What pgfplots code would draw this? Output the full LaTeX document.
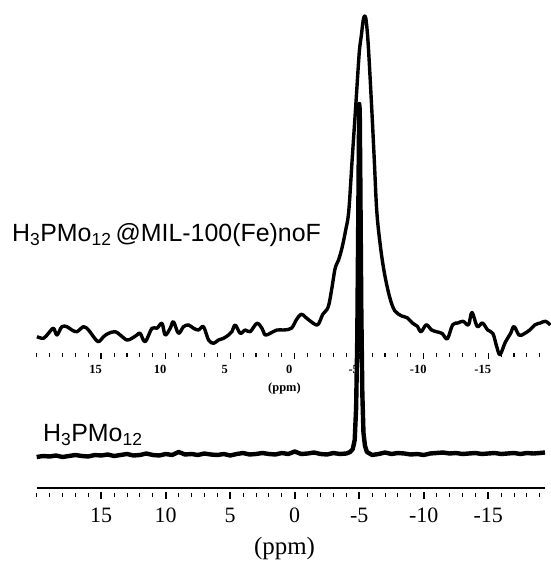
\documentclass[border=0pt]{standalone}
\usepackage{fontspec}
\setmainfont{Liberation Serif}
\newfontfamily\arial{Liberation Sans}
\usepackage{pgfplots}
\usepackage{pgfplotstable}
\pgfplotsset{compat=1.18}

\pgfplotstableread{
x A
19.98 151.3
19.47 149.7
19.09 154.7
18.70 159.7
18.43 153
18.05 161.3
17.66 161.3
17.27 158
16.88 156.3
16.37 161.3
15.98 158
15.60 151.3
15.21 146.3
14.82 151.3
14.43 154.7
13.91 156.3
13.53 153
13.01 148
12.62 149.7
12.23 153
11.98 154.7
11.59 146.3
11.07 159.7
10.68 159.7
10.29 164.7
10.04 153
9.65 159.7
9.40 166.3
9.01 154.7
8.62 161.3
8.23 163
7.84 159.7
7.46 158
7.07 161.3
6.68 148
6.29 144.7
5.91 148
5.52 149.7
5.13 153
4.87 156.3
4.61 163
4.22 154.7
3.84 158
3.45 156.3
2.93 164.7
2.54 159.7
2.29 153
1.90 154.7
1.38 158
0.87 158
0.26 159.7
-0.14 168.5
-0.50 173.8
-0.82 171
-1.23 166.7
-1.78 163.2
-2.18 173.8
-2.59 180.8
-2.86 198.3
-3.13 219.4
-3.40 228.1
-3.67 240.4
-3.95 257.9
-4.19 277
-4.46 330
-4.73 382
-5.00 435
-5.16 452
-5.31 468
-5.43 472
-5.54 467
-5.70 443
-5.96 382
-6.16 330
-6.36 277
-6.63 243
-6.94 215.8
-7.35 191.3
-7.75 177.3
-8.30 172
-8.71 170.3
-9.12 165
-9.52 161.5
-9.79 156.2
-10.20 163.2
-10.61 158
-11.02 156.2
-11.43 154.5
-11.83 149.2
-12.24 163.2
-12.65 165
-13.05 166.7
-13.47 163.2
-13.74 175.5
-14.15 161.5
-14.55 165
-14.96 158
-15.36 154.5
-15.64 142.2
-15.91 133.4
-16.32 145.7
-16.73 154.5
-17.00 161.5
-17.40 152.7
-17.81 154.5
-18.22 158
-18.63 163.2
-19.04 165
-19.44 166.7
-19.81 163
}\mofdata

\pgfplotstableread{
x A
20 31
19.5 32
19 31.5
18.5 32.5
18 31
17.5 32
17 33
16.5 32
16 31.5
15.5 33
15 32.5
14.5 33.5
14 32
13.5 33
13 34
12.5 32.5
12 33
11.5 34.5
11 33
10.5 32.5
10 34
9.5 33
9 36
8.5 33.5
8 34
7.5 33
7 34.5
6.5 33.5
6 33
5.5 34
5 32.5
4.5 34
4 35
3.5 33.5
3 34
2.5 35
2 34
1.5 33.5
1 35
0.5 34
0 36.5
-0.5 34
-1 34.5
-1.5 35.5
-2 34
-2.5 33.5
-3 35
-3.5 34
-4 34.5
-4.3 36
-4.5 39
-4.65 48
-4.76 80
-4.85 150
-4.92 260
-4.97 340
-5.0 384
-5.04 378
-5.09 300
-5.16 180
-5.24 95
-5.33 55
-5.45 42
-5.6 36
-6 33
-6.5 34
-7 35.5
-7.5 34
-8 35
-8.5 34.5
-9 33.5
-9.5 34
-10 33
-10.5 34.5
-11 35
-11.5 35.5
-12 34.5
-12.5 35
-13 34
-13.5 34.5
-14 35
-14.5 34
-15 34.5
-15.5 35
-16 34
-16.5 34.5
-17 35
-17.5 34
-18 35
-18.5 34.5
-19 35
-19.4 35.5
}\puredata

\begin{document}
\begin{tikzpicture}
\path[use as bounding box] (0,0) rectangle (551bp,573bp);

% bottom spectrum and main axis
\begin{axis}[
  at={(36.7bp,85bp)}, anchor=south west,
  scale only axis, width=508.3bp, height=488bp,
  xmin=-19.4, xmax=20, ymin=0, ymax=488,
  x dir=reverse,
  axis x line*=bottom, axis y line=none,
  x axis line style={line width=2bp, -},
  xtick={-15,-10,-5,0,5,10,15},
  xticklabels={-15,-10,-5,0,5,10,15},
  minor xtick={-19,-18,...,20},
  tick align=outside,
  major tick length=7.5bp, minor tick length=4bp,
  major tick style={line width=2.4bp, yshift=-3.5bp, black},
  minor tick style={line width=0.9bp, yshift=-5bp, black},
  xticklabel style={font=\fontsize{22}{22}\selectfont, yshift=-9bp},
  xlabel={(ppm)},
  xlabel style={at={(axis description cs:0.4875,0)}, anchor=center, yshift=-61bp, font=\fontsize{25}{25}\selectfont},
  clip=false,
]
\addplot[black, line width=4.4bp, line join=round] table[x=x, y=A] {\puredata};
\end{axis}

% top spectrum and its own axis
\begin{axis}[
  at={(36.7bp,220bp)}, anchor=south west,
  scale only axis, width=508.3bp, height=353bp,
  xmin=-19.4, xmax=20, ymin=135, ymax=488,
  x dir=reverse,
  axis x line*=bottom, axis y line=none,
  x axis line style={draw=none},
  xtick={-15,-10,-5,0,5,10,15},
  xticklabels={-15,-10,-5,0,5,10,15},
  minor xtick={-19,-18,...,20},
  tick align=outside,
  major tick length=6.5bp, minor tick length=4bp,
  major tick style={line width=1.4bp, black},
  minor tick style={line width=1.1bp, black},
  xticklabel style={font=\fontsize{12.5}{12.5}\selectfont\bfseries, yshift=-2.5bp, xshift=-5.5bp},
  xlabel={(ppm)},
  xlabel style={at={(axis description cs:0.4875,0)}, anchor=center, yshift=-36bp, font=\fontsize{12.5}{12.5}\selectfont\bfseries},
  clip=false,
]
\addplot[black, line width=3.4bp, line join=round, smooth, tension=0.55] table[x=x, y=A] {\mofdata};
\end{axis}

\node[anchor=base west, inner sep=0pt, font=\arial\fontsize{25}{25}\selectfont] at (12bp,331bp)
  {H\textsubscript{3}PMo\textsubscript{12}\,@MIL-100(Fe)noF};
\node[anchor=base west, inner sep=0pt, font=\arial\fontsize{25}{25}\selectfont] at (43bp,131.3bp)
  {H\textsubscript{3}PMo\textsubscript{12}};
\end{tikzpicture}
\end{document}
